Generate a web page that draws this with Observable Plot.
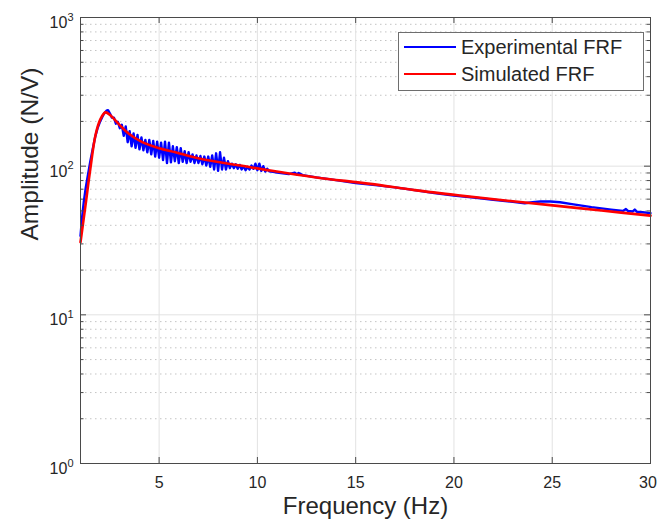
<!DOCTYPE html>
<html><head><meta charset="utf-8">
<script src="https://cdn.jsdelivr.net/npm/d3@7"></script>
<script src="https://cdn.jsdelivr.net/npm/@observablehq/plot@0.6"></script>
<style>body{margin:0;background:#fff;} #chart{position:relative;width:657px;height:527px;}</style>
</head><body><div id="chart"></div>
<script>
// Simulated FRF (red)
const simFreq = [1.0, 1.25, 1.5, 1.76, 2.02, 2.27, 2.53, 2.95, 3.46, 4.14, 5.0, 5.83, 7.1, 9.14, 10.66, 13.0, 15.75, 18.0, 20.33, 22.5, 24.9, 27.5, 30.0];
const simAmp  = [30.8, 54, 96, 161, 208, 230, 219, 192, 165, 145, 132, 124, 112, 101, 93.4, 84, 76, 69, 63.4, 59, 54.7, 50.3, 46.5];

// Experimental FRF (blue)
const expFreq = [1.0, 1.08, 1.17, 1.27, 1.37, 1.5, 1.62, 1.75, 1.88, 2.0, 2.12, 2.22, 2.32, 2.4, 2.5,
  2.6, 2.7, 2.8, 2.9, 3.0, 3.1, 3.2, 3.3, 3.4, 3.5, 3.6, 3.7, 3.8, 3.9, 4.0, 4.1, 4.2, 4.3, 4.4, 4.5,
  4.6, 4.7, 4.8, 4.9, 5.0, 5.1, 5.2, 5.3, 5.4, 5.5, 5.6, 5.7, 5.8, 5.9, 6.0, 6.1, 6.2, 6.3, 6.4, 6.5,
  6.6, 6.7, 6.8, 6.9, 7.0, 7.1, 7.2, 7.3, 7.4, 7.5, 7.6, 7.7, 7.8, 7.9, 8.0, 8.1, 8.2, 8.3, 8.4, 8.5,
  8.6, 8.7, 8.8, 8.9, 9.0, 9.1, 9.2, 9.3, 9.4, 9.5, 9.6, 9.7, 9.8, 9.9, 10.0, 10.1, 10.2, 10.3, 10.4, 10.5,
  10.6, 10.8, 11.0, 11.3, 11.6, 11.9, 12.0, 12.1, 12.3, 13, 14, 15, 16, 17, 18, 19, 20, 21, 22, 23,
  23.6, 24.0, 24.4, 24.9, 25.4, 26, 27, 28, 28.6, 28.75, 28.85, 29.1, 29.2, 29.3, 29.6, 30.0];
const expAmp = [34, 45, 58, 72, 86, 108, 130, 158, 182, 200, 216, 228, 236, 238, 226,
  212, 212, 193, 199, 180, 190, 160, 185, 145, 172, 136, 166, 133, 162, 130, 156, 128, 150, 124, 150,
  120, 148, 116, 146, 114, 144, 110, 146, 105, 144, 106, 136, 108, 134, 105, 132, 107, 126, 105, 124,
  107, 120, 105, 118, 105, 117, 103, 116, 101, 116, 99, 118, 95, 122, 93, 124, 95, 114, 95, 108,
  97, 104, 97, 103, 96, 102, 95, 100, 94, 99, 95, 101, 96, 104, 94, 104, 93, 100, 92, 96,
  92.5, 91.5, 90.5, 89.5, 88.5, 90.5, 88, 90, 87, 84, 80.5, 77, 74.5, 72, 69, 66, 63.5, 61.5, 59.5, 57.5,
  56.3, 57.2, 57.8, 57.8, 57.2, 55.5, 53, 51, 50, 51.5, 50, 49.6, 51, 49.4, 49, 48.3];

const xTicks = [5, 10, 15, 20, 25, 30];
const yMajorTicks = [1, 10, 100, 1000];
const yMinorTicks = [2, 3, 4, 5, 6, 7, 8, 9, 20, 30, 40, 50, 60, 70, 80, 90, 200, 300, 400, 500, 600, 700, 800, 900];
const seriesNames = ["Experimental FRF", "Simulated FRF"];
const seriesColors = ["#0000ff", "#ff0000"];
const xLabel = "Frequency (Hz)";
const yLabel = "Amplitude (N/V)";

const sim = simFreq.map((x, i) => ({x, y: simAmp[i]}));
const exp = expFreq.map((x, i) => ({x, y: expAmp[i]}));

const W = 657, H = 527, mL = 80, mR = 7, mT = 17, mB = 64;
const pw = W - mL - mR, ph = H - mT - mB;
const axisColor = "#4a4a4a";
const textColor = "#262626";

const plot = Plot.plot({
  width: W, height: H, marginLeft: mL, marginRight: mR, marginTop: mT, marginBottom: mB,
  style: {fontFamily: "'Liberation Sans', Arial, Helvetica, sans-serif", fontSize: "16px", color: textColor, background: "#fff"},
  x: {domain: [1, 30]},
  y: {type: "log", domain: [1, 1000]},
  marks: [
    Plot.ruleY(yMinorTicks, {stroke: "#c4c4c4", strokeDasharray: "1.5,3.5"}),
    Plot.ruleY(yMajorTicks, {stroke: "#e2e2e2"}),
    Plot.ruleX(xTicks, {stroke: "#e2e2e2"}),
    Plot.line(exp, {x: "x", y: "y", stroke: seriesColors[0], strokeWidth: 2.4}),
    Plot.line(sim, {x: "x", y: "y", stroke: seriesColors[1], strokeWidth: 2.6, curve: "catmull-rom"}),
    Plot.frame({stroke: axisColor, strokeWidth: 1}),
    Plot.tickX(xTicks, {x: d => d, stroke: axisColor, insetTop: ph - 6}),
    Plot.tickX(xTicks, {x: d => d, stroke: axisColor, insetBottom: ph - 6}),
    Plot.tickY(yMajorTicks, {y: d => d, stroke: axisColor, insetRight: pw - 6}),
    Plot.tickY(yMajorTicks, {y: d => d, stroke: axisColor, insetLeft: pw - 6}),
    Plot.tickY(yMinorTicks, {y: d => d, stroke: axisColor, insetRight: pw - 3.5}),
    Plot.tickY(yMinorTicks, {y: d => d, stroke: axisColor, insetLeft: pw - 3.5}),
    Plot.axisX(xTicks, {anchor: "bottom", tickSize: 0, tickPadding: 13, fontSize: 16, label: null, fill: textColor}),
    Plot.axisY(yMajorTicks, {anchor: "left", tickSize: 0, tickPadding: 7, fontSize: 16, label: null, fill: textColor,
      tickFormat: d => "10^" + Math.round(Math.log10(d))}),
    Plot.text([xLabel], {frameAnchor: "bottom", dy: 50, fontSize: 24, text: d => d, fill: textColor}),
    Plot.text([yLabel], {frameAnchor: "left", dx: -50, rotate: -90, fontSize: 24.5, text: d => d, fill: textColor})
  ]
});

// superscript exponents on y tick labels
d3.select(plot).selectAll('g[aria-label="y-axis tick label"] text').each(function() {
  const parts = this.textContent.split("^");
  const sel = d3.select(this);
  sel.text(null);
  sel.append("tspan").attr("dy", "5.4").text(parts[0]);
  sel.append("tspan").attr("dy", "-7.5").attr("font-size", "11px").text(parts[1]);
});

// keep the last x tick label inside the page edge
const xLabels = d3.select(plot).selectAll('g[aria-label="x-axis tick label"] text').nodes();
if (xLabels.length) d3.select(xLabels[xLabels.length - 1]).attr("dx", -2.5);

// legend
const lg = d3.select(plot).append("g").attr("text-anchor", "start");
lg.append("rect").attr("x", 398.5).attr("y", 32.5).attr("width", 245).attr("height", 58)
  .attr("fill", "#fff").attr("stroke", "#6e6e6e").attr("stroke-width", 1);
seriesNames.forEach((n, i) => {
  const cy = 47 + i * 27;
  lg.append("line").attr("x1", 404).attr("x2", 456).attr("y1", cy).attr("y2", cy)
    .attr("stroke", seriesColors[i]).attr("stroke-width", 2.2);
  lg.append("text").attr("x", 461).attr("y", cy).attr("dy", "0.37em").attr("text-anchor", "start")
    .attr("font-size", 20).attr("fill", textColor).text(n);
});

document.getElementById("chart").appendChild(plot);
</script>
</body></html>
